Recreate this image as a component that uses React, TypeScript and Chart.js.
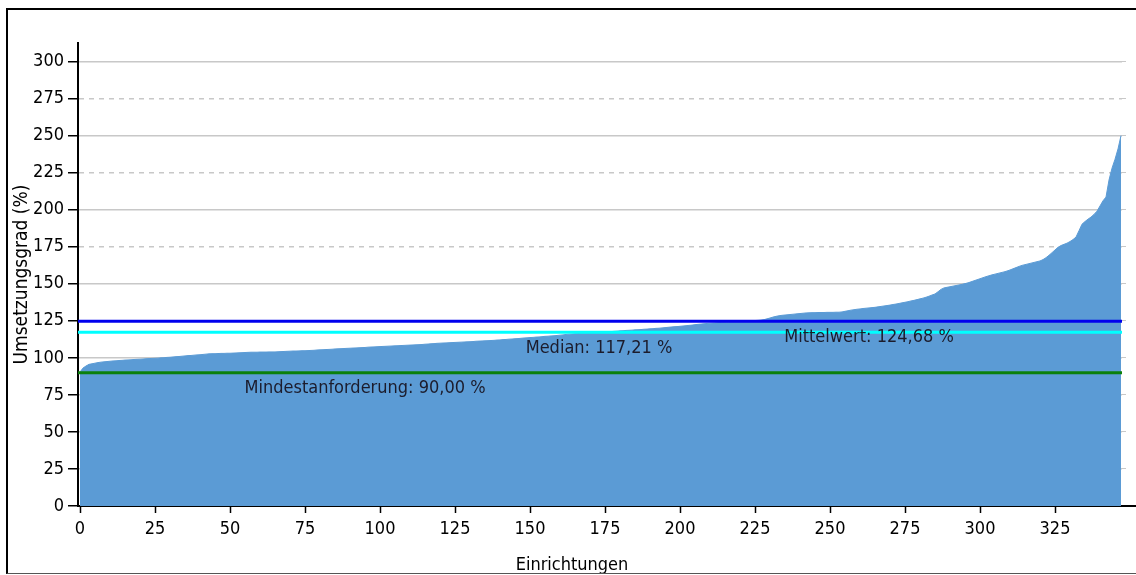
import React, { useEffect, useRef } from 'react';
import { Chart, registerables } from 'chart.js';

Chart.register(...registerables);

// Umsetzungsgrad (%) je Einrichtung, aufsteigend sortiert (348 Einrichtungen)
const facilityRates: number[] = [
  90.4, 93.1, 94.5, 95.6, 96.0, 96.4, 96.8, 97.1, 97.3, 97.5, 97.7, 97.9, 98.0, 98.2, 98.3, 98.5, 98.6, 98.7, 98.9, 99.0,
  99.1, 99.2, 99.4, 99.5, 99.6, 99.7, 99.8, 100.0, 100.1, 100.3, 100.4, 100.6, 100.8, 100.9, 101.1, 101.3, 101.5, 101.6, 101.8, 102.0,
  102.1, 102.3, 102.5, 102.7, 102.8, 102.8, 102.9, 103.0, 103.0, 103.1, 103.1, 103.2, 103.3, 103.4, 103.5, 103.6, 103.7, 103.8, 103.8, 103.8,
  103.9, 103.9, 103.9, 104.0, 104.0, 104.0, 104.1, 104.2, 104.3, 104.4, 104.5, 104.6, 104.6, 104.7, 104.8, 104.8, 104.9, 105.0, 105.1, 105.3,
  105.4, 105.5, 105.6, 105.7, 105.8, 106.0, 106.1, 106.2, 106.3, 106.4, 106.5, 106.6, 106.7, 106.8, 106.9, 107.0, 107.2, 107.3, 107.4, 107.5,
  107.6, 107.7, 107.8, 107.9, 108.0, 108.1, 108.2, 108.3, 108.4, 108.5, 108.6, 108.7, 108.8, 108.9, 109.0, 109.2, 109.3, 109.5, 109.6, 109.8,
  109.9, 110.0, 110.1, 110.2, 110.3, 110.4, 110.5, 110.6, 110.7, 110.8, 110.9, 111.0, 111.2, 111.3, 111.4, 111.5, 111.6, 111.7, 111.8, 112.0,
  112.1, 112.3, 112.4, 112.6, 112.7, 112.9, 113.0, 113.2, 113.4, 113.5, 113.7, 113.8, 114.0, 114.1, 114.3, 114.5, 114.6, 114.8, 114.9, 115.1,
  115.3, 115.5, 115.8, 116.0, 116.1, 116.3, 116.4, 116.5, 116.6, 116.7, 116.8, 116.9, 117.0, 117.2, 117.22, 117.4, 117.6, 117.7, 117.9, 118.0,
  118.2, 118.3, 118.5, 118.6, 118.7, 118.9, 119.0, 119.1, 119.3, 119.4, 119.6, 119.7, 119.9, 120.0, 120.2, 120.4, 120.6, 120.8, 121.0, 121.1,
  121.3, 121.5, 121.7, 121.9, 122.1, 122.4, 122.6, 122.8, 123.0, 123.2, 123.4, 123.5, 123.6, 123.8, 123.9, 124.0, 124.1, 124.2, 124.4, 124.5,
  124.6, 124.7, 124.8, 125.0, 125.1, 125.2, 125.3, 125.5, 125.8, 126.3, 126.9, 127.5, 128.0, 128.4, 128.7, 128.9, 129.1, 129.3, 129.5, 129.7,
  129.9, 130.1, 130.3, 130.4, 130.5, 130.5, 130.6, 130.6, 130.6, 130.7, 130.7, 130.7, 130.8, 130.8, 131.0, 131.4, 131.8, 132.2, 132.5, 132.8,
  133.0, 133.3, 133.5, 133.7, 133.9, 134.1, 134.4, 134.7, 135.0, 135.3, 135.6, 136.0, 136.3, 136.7, 137.1, 137.5, 137.9, 138.4, 138.8, 139.3,
  139.8, 140.3, 140.9, 141.6, 142.4, 143.1, 144.6, 146.2, 147.2, 147.6, 148.0, 148.4, 148.8, 149.2, 149.6, 150.1, 150.6, 151.3, 152.0, 152.7,
  153.4, 154.1, 154.8, 155.4, 156.0, 156.5, 157.0, 157.5, 158.0, 158.6, 159.3, 160.1, 160.9, 161.7, 162.4, 162.9, 163.4, 163.9, 164.4, 164.9,
  165.4, 166.3, 167.6, 169.2, 171.0, 172.8, 174.6, 175.8, 176.6, 177.4, 178.5, 179.8, 181.5, 185.8, 190.2, 192.0, 193.6, 195.0, 196.8, 199.0,
  202.5, 206.0, 208.5, 220.0, 228.0, 234.0, 241.0, 250.0,
];

// Referenzlinien: Mindestanforderung, Median, Mittelwert
const referenceValues: number[] = [90.0, 117.21, 124.68];
const referenceLabels: string[] = ['Mindestanforderung: 90,00 %', 'Median: 117,21 %', 'Mittelwert: 124,68 %'];
const referenceLabelAt: number[] = [95, 173, 263];

// Achsenbeschriftungen
const xTickValues: number[] = [0, 25, 50, 75, 100, 125, 150, 175, 200, 225, 250, 275, 300, 325];
const yTickValues: number[] = [0, 25, 50, 75, 100, 125, 150, 175, 200, 225, 250, 275, 300];
const yTitle = 'Umsetzungsgrad (%)';
const xTitle = 'Einrichtungen';

const X_MIN = -0.667;
const X_MAX = 347.33;
const Y_MIN = 0;
const Y_MAX = 312.5;

const FONT = '"DejaVu Sans Condensed", "DejaVu Sans", sans-serif';
const FONT_SIZE = 18;
const AREA_COLOR = '#5B9BD5';
const REF_COLORS = ['#0B800B', '#00FFFF', '#0000EE'];
const TEXT_COLOR = '#1c1c2c';

const setTicks = (values: number[]) => (axis: any) => {
  axis.ticks = values.map((v) => ({ value: v }));
};

export default function App() {
  const ref = useRef<HTMLCanvasElement>(null);

  useEffect(() => {
    document.body.style.overflow = 'hidden';
    const canvas = ref.current;
    if (!canvas) return;

    const overlay = {
      id: 'overlay',
      afterDatasetsDraw(chart: any) {
        const { ctx, scales } = chart;
        ctx.save();
        ctx.font = `${FONT_SIZE}px ${FONT}`;
        ctx.fillStyle = TEXT_COLOR;
        ctx.textAlign = 'center';
        ctx.textBaseline = 'middle';
        referenceValues.forEach((v, i) => {
          ctx.fillText(
            referenceLabels[i],
            scales.x.getPixelForValue(referenceLabelAt[i]),
            scales.y.getPixelForValue(v) + 16
          );
        });
        ctx.restore();
      },
      afterDraw(chart: any) {
        const { ctx, chartArea, width, height } = chart;
        ctx.save();
        ctx.strokeStyle = '#000';
        ctx.lineWidth = 2;
        ctx.beginPath();
        ctx.moveTo(chartArea.right, chartArea.bottom);
        ctx.lineTo(width, chartArea.bottom);
        ctx.stroke();
        ctx.font = `${FONT_SIZE}px ${FONT}`;
        ctx.fillStyle = '#000';
        ctx.textAlign = 'center';
        ctx.textBaseline = 'middle';
        ctx.fillText(xTitle, width / 2, height - 8);
        ctx.restore();
      },
    };

    const datasets: any[] = [
      {
        label: 'Umsetzungsgrad',
        data: facilityRates.map((v, i) => ({ x: i, y: v })),
        backgroundColor: AREA_COLOR,
        borderColor: AREA_COLOR,
        borderWidth: 1,
        pointRadius: 0,
        fill: 'origin',
        tension: 0,
        order: 10,
      },
      ...referenceValues.map((v, i) => ({
        label: referenceLabels[i],
        data: [
          { x: X_MIN, y: v },
          { x: X_MAX, y: v },
        ],
        borderColor: REF_COLORS[i],
        backgroundColor: REF_COLORS[i],
        borderWidth: 3,
        pointRadius: 0,
        fill: false,
        order: i,
      })),
    ];

    const chart = new Chart(canvas, {
      type: 'line',
      data: { datasets },
      plugins: [overlay],
      options: {
        responsive: false,
        animation: false,
        layout: { padding: { top: 33, left: 0, right: 0, bottom: 0 } },
        plugins: {
          legend: { display: false },
          tooltip: { enabled: false },
        },
        scales: {
          x: {
            type: 'linear',
            min: X_MIN,
            max: X_MAX,
            afterBuildTicks: setTicks(xTickValues),
            afterFit: (s: any) => {
              s.height = 67;
            },
            ticks: {
              autoSkip: false,
              maxRotation: 0,
              padding: 6,
              color: '#000',
              font: { family: FONT, size: FONT_SIZE },
              callback: (v: any) => String(v),
            },
            grid: {
              drawOnChartArea: false,
              drawTicks: true,
              tickLength: 7,
              tickColor: '#000',
              tickWidth: 1.5,
            },
            border: { color: '#000', width: 2 },
          },
          y: {
            type: 'linear',
            position: 'left',
            min: Y_MIN,
            max: Y_MAX,
            afterBuildTicks: setTicks(yTickValues),
            afterFit: (s: any) => {
              s.width = 70;
            },
            ticks: {
              autoSkip: false,
              padding: 4,
              color: '#000',
              font: { family: FONT, size: FONT_SIZE },
              callback: (v: any) => String(v),
            },
            grid: {
              color: '#c8c8c8',
              lineWidth: 1.5,
              tickLength: 10,
              tickColor: '#000',
              tickWidth: 1.5,
            },
            border: {
              color: '#000',
              width: 2,
              dash: (ctx: any) => (ctx.tick && ctx.tick.value % 50 !== 0 ? [5, 5] : []),
            },
            title: {
              display: true,
              text: yTitle,
              color: '#000',
              font: { family: FONT, size: 19 },
              padding: { top: 3, bottom: 0 },
            },
          },
          y2: {
            type: 'linear',
            position: 'right',
            min: Y_MIN,
            max: Y_MAX,
            afterBuildTicks: setTicks(yTickValues),
            afterFit: (s: any) => {
              s.width = 14;
            },
            ticks: { display: false },
            grid: {
              drawOnChartArea: false,
              tickLength: 4,
              tickColor: '#c8c8c8',
            },
            border: { display: false },
          },
        },
      },
    });

    return () => chart.destroy();
  }, []);

  return (
    <div
      style={{
        position: 'absolute',
        left: 6,
        top: 8,
        width: 1130,
        height: 566,
        boxSizing: 'border-box',
        borderTop: '2px solid #000',
        borderLeft: '2px solid #000',
        borderBottom: '1px solid #555',
        background: '#fff',
        overflow: 'hidden',
      }}
    >
      <canvas ref={ref} width={1128} height={563} style={{ display: 'block' }} />
    </div>
  );
}
